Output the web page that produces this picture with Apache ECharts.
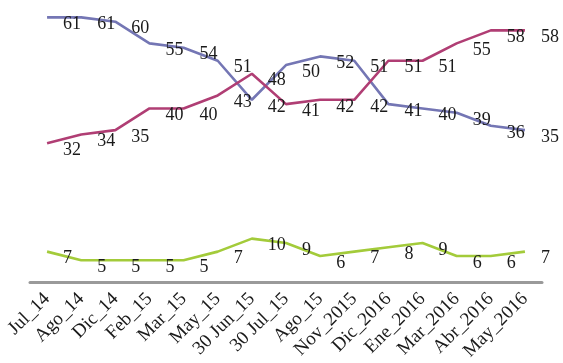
<!DOCTYPE html>
<html>
<head>
<meta charset="utf-8">
<script src="https://cdn.jsdelivr.net/npm/echarts@6/dist/echarts.min.js"></script>
<style>
  html, body { margin: 0; padding: 0; background: #fff; }
  #chart { width: 563px; height: 363px; }
</style>
</head>
<body>
<div id="chart"></div>
<script>
// Survey periods
const categories = ['Jul_14', 'Ago_14', 'Dic_14', 'Feb_15', 'Mar_15', 'May_15', '30 Jun_15',
  '30 Jul_15', 'Ago_15', 'Nov_2015', 'Dic_2016', 'Ene_2016', 'Mar_2016', 'Abr_2016', 'May_2016'];

// Percentages per series
const blueValues  = [61, 61, 60, 55, 54, 51, 42, 50, 52, 51, 41, 40, 39, 36, 35];
const redValues   = [32, 34, 35, 40, 40, 43, 48, 41, 42, 42, 51, 51, 55, 58, 58];
const greenValues = [7, 5, 5, 5, 5, 7, 10, 9, 6, 7, 8, 9, 6, 6, 7];

const serif = '"Liberation Serif", "DejaVu Serif", serif';

function lineSeries(data, color) {
  return {
    type: 'line',
    data: data,
    symbol: 'circle',
    symbolSize: 2,
    showSymbol: true,
    itemStyle: { color: 'rgba(0,0,0,0)', borderWidth: 0 },
    lineStyle: { color: color, width: 2.6 },
    label: {
      show: true,
      // value sits to the lower right of its point
      position: [17, 8],
      align: 'left',
      verticalAlign: 'middle',
      color: '#1a1a1a',
      fontFamily: serif,
      fontSize: 18
    },
    labelLayout: { hideOverlap: false },
    emphasis: { disabled: true },
    animation: false,
    z: 3
  };
}

const chart = echarts.init(document.getElementById('chart'), null, { renderer: 'canvas' });
chart.setOption({
  backgroundColor: '#ffffff',
  grid: { left: 30, right: 21, top: 0, bottom: 81, containLabel: false, outerBoundsMode: 'none' },
  xAxis: {
    type: 'category',
    data: categories,
    boundaryGap: true,
    axisLine: { show: true, lineStyle: { color: '#9a9a9a', width: 3 } },
    axisTick: { show: false },
    axisLabel: {
      rotate: 45,
      margin: 14,
      // top padding nudges the slanted names a little to the right
      padding: [16, 0, 0, 0],
      interval: 0,
      color: '#1a1a1a',
      fontFamily: serif,
      fontSize: 19
    }
  },
  yAxis: {
    type: 'value',
    min: 0,
    max: 65,
    show: false,
    splitLine: { show: false }
  },
  series: [
    lineSeries(blueValues, '#7476b4'),
    lineSeries(redValues, '#b03e74'),
    lineSeries(greenValues, '#a3cb3a')
  ]
});
</script>
</body>
</html>
